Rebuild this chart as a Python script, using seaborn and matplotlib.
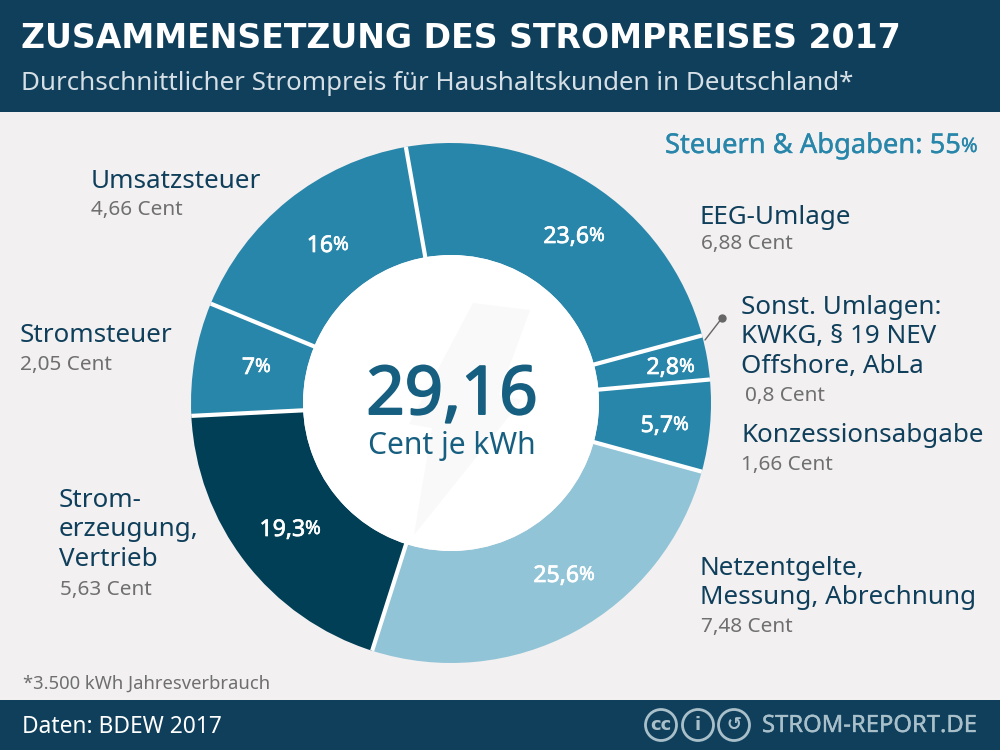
import matplotlib
matplotlib.use('Agg')
import matplotlib.pyplot as plt
from matplotlib.patches import Circle, Polygon, Rectangle
import matplotlib.patheffects as pe
import numpy as np
import seaborn as sns

# 0_ data
parts = ['EEG-Umlage', 'Sonst. Umlagen', 'Konzessionsabgabe', 'Netzentgelte',
         'Stromerzeugung', 'Stromsteuer', 'Umsatzsteuer']
cents = [6.88, 0.8, 1.66, 7.48, 5.63, 2.05, 4.66]
percent_big = ['23,6', '2,8', '5,7', '25,6', '19,3', '7', '16']
cent_labels = ['6,88 Cent', '0,8 Cent', '1,66 Cent', '7,48 Cent', '5,63 Cent', '2,05 Cent', '4,66 Cent']
total_label = '29,16'

navy = '#0f3f5b'
blue = '#2886aa'
dark = '#003f55'
light = '#92c4d7'
grey = '#6f6f6f'
bg = '#f2f0f1'
icon = '#a9c0ca'
slice_colors = sns.color_palette([blue, blue, blue, light, dark, blue, blue])

sns.set_theme(style='white')
plt.rcParams['font.family'] = ['Noto Sans', 'DejaVu Sans']


def H(y):
    # pixels from the top of the image -> axes y
    return 750 - y


def fs(px):
    return px * 0.72


def heavy(color, w=0.7):
    # Noto Sans has no bold face here, so thicken with a stroke
    return [pe.withStroke(linewidth=w, foreground=color)]


fig = plt.figure(figsize=(10, 7.5), dpi=100, facecolor=bg)
ax = fig.add_axes([0, 0, 1, 1])

# 1_ donut
cx, cy, r_out, r_in = 451, H(403), 260, 148
wedges, _ = ax.pie(cents, colors=slice_colors, startangle=100, counterclock=False,
                   center=(cx, cy), radius=r_out,
                   wedgeprops=dict(width=r_out - r_in, edgecolor='none'))
# white separators only between the slices, no ring on the outside
for w in wedges:
    a = np.deg2rad(w.theta1)
    ax.plot([cx + (r_in - 2) * np.cos(a), cx + r_out * np.cos(a)],
            [cy + (r_in - 2) * np.sin(a), cy + r_out * np.sin(a)],
            color='white', lw=3, solid_capstyle='butt', zorder=3)
ax.add_patch(Circle((cx, cy), r_in, fc='white', ec='none', zorder=3))

# faint lightning bolt in the hole
bolt = [(473, 303), (530, 310), (499, 395), (522, 400), (414, 535), (432, 428), (409, 424)]
ax.add_patch(Polygon([(x, H(y)) for x, y in bolt], closed=True, fc='#f9f9f9', ec='none', zorder=4))

ax.set_xlim(0, 1000)
ax.set_ylim(0, 750)
ax.set_aspect('auto')
ax.axis('off')

# 2_ header and footer bands
ax.add_patch(Rectangle((0, H(112)), 1000, 112, fc=navy, ec='none', zorder=1))
ax.add_patch(Rectangle((0, 0), 1000, 50, fc=navy, ec='none', zorder=1))

ax.text(21, H(39), 'ZUSAMMENSETZUNG DES STROMPREISES 2017', color='white', fontsize=fs(33.2),
        fontweight='bold', family=['DejaVu Sans'], ha='left', va='center')
ax.text(21, H(84), 'Durchschnittlicher Strompreis für Haushaltskunden in Deutschland*', color='#d5dfe5',
        fontsize=fs(25.9), ha='left', va='center')

ax.text(665, H(146), 'Steuern & Abgaben: 55', color=blue, fontsize=fs(27.3), ha='left', va='center',
        path_effects=heavy(blue, 0.25))
ax.text(961, H(147), '%', color=blue, fontsize=fs(20), ha='left', va='center', path_effects=heavy(blue, 0.25))

# 3_ percent labels inside the ring (number, smaller % sign)
pct_split = [(589, 237), (679, 368), (673, 426), (579, 576), (305, 530), (255, 368), (333, 246)]
for text, (x, y) in zip(percent_big, pct_split):
    ax.text(x, H(y), text, color='white', fontsize=fs(23), ha='right', va='center', zorder=5,
            path_effects=heavy('white', 0.5))
    ax.text(x, H(y - 1), '%', color='white', fontsize=fs(19), ha='left', va='center', zorder=5,
            path_effects=heavy('white', 0.4))

# 4_ centre text
ax.text(452, H(396), total_label, color='#175f80', fontsize=fs(67), ha='center', va='center', zorder=5,
        path_effects=heavy('#175f80', 1.4))
ax.text(452, H(446), 'Cent je kWh', color='#175f80', fontsize=fs(30), ha='center', va='center', zorder=5)

# 5_ outer labels
names = [('EEG-Umlage', 700, 217), ('Sonst. Umlagen:\nKWKG, § 19 NEV\nOffshore, AbLa', 741, 337),
         ('Konzessionsabgabe', 741, 436), ('Netzentgelte,\nMessung, Abrechnung', 700, 583),
         ('Strom-\nerzeugung,\nVertrieb', 59, 530), ('Stromsteuer', 20, 336), ('Umsatzsteuer', 91, 181)]
cent_pos = [(701, 244), (745, 396), (741, 465), (701, 627), (60, 590), (20, 365), (91, 210)]
for (name, x, y), label, (lx, ly) in zip(names, cent_labels, cent_pos):
    ax.text(x, H(y), name, color=navy, fontsize=fs(26), ha='left', va='center', linespacing=1.26)
    ax.text(lx, H(ly), label, color=grey, fontsize=fs(20.8), ha='left', va='center')

# leader line for the small slice
ax.plot([705, 722], [H(340), H(318)], color='#666666', lw=1, zorder=5)
ax.plot([722], [H(318)], 'o', color='#666666', ms=5, zorder=5)

# 6_ notes and footer
ax.text(23, H(684), '*3.500 kWh Jahresverbrauch', color=grey, fontsize=fs(18.4), ha='left', va='center')
ax.text(22, H(727), 'Daten: BDEW 2017', color='white', fontsize=fs(22.8), ha='left', va='center')
ax.text(762, H(726), 'STROM-REPORT.DE', color=icon, fontsize=fs(23.8), ha='left', va='center',
        path_effects=heavy(icon, 0.25))

# licence icons
for ix, inner in zip([661, 698, 734], ['cc', 'i', '↺']):
    ax.add_patch(Circle((ix, H(725)), 15.5, fc='none', ec=icon, lw=2, zorder=5))
    ax.text(ix, H(725), inner, color=icon, fontsize=fs(18), fontweight='bold', family=['DejaVu Sans'],
            ha='center', va='center', zorder=5)

fig.savefig('out.png', dpi=100, facecolor=bg)
